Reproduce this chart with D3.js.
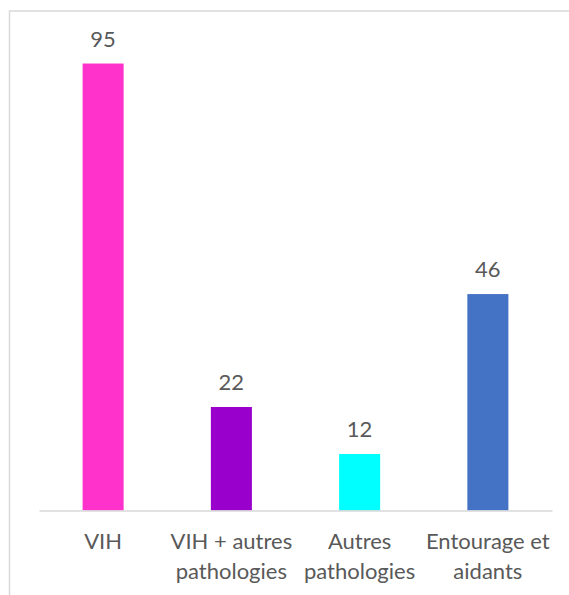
<!DOCTYPE html>
<html lang="en">
<head>
    <meta charset="UTF-8">
    <title>VIH chart</title>
    <script src="https://cdnjs.cloudflare.com/ajax/libs/d3/7.8.5/d3.min.js"></script>
    <style>
        html, body { margin: 0; padding: 0; background: #fff; }
        svg { display: block; }
        text { font-family: Lato, "Open Sans", sans-serif; fill: #595959; }
    </style>
</head>
<body>
<div id="chart"></div>
<script>
    // data
    const categories = ["VIH", "VIH + autres\npathologies", "Autres\npathologies", "Entourage et\naidants"];
    const values = [95, 22, 12, 46];
    const colors = ["#ff33cc", "#9900cc", "#00ffff", "#4472c4"];

    const width = 569;
    const height = 595;
    const fontSize = 22;

    const svg = d3.select("#chart")
        .append("svg")
        .attr("width", width)
        .attr("height", height);

    // chart frame (cut off at right and bottom like the original)
    svg.append("rect")
        .attr("x", 9.5)
        .attr("y", 11)
        .attr("width", width + 20)
        .attr("height", height + 20)
        .attr("fill", "none")
        .attr("stroke", "#d9d9d9")
        .attr("stroke-width", 1.5);

    const x = d3.scaleBand()
        .domain(categories)
        .range([39, 552])
        .paddingInner(0.68)
        .paddingOuter(0.34);

    const y = d3.scaleLinear()
        .domain([0, 100])
        .range([510.5, 40]);

    // bars
    svg.append("g")
        .selectAll("rect")
        .data(values)
        .enter()
        .append("rect")
        .attr("x", (d, i) => x(categories[i]))
        .attr("y", d => y(d))
        .attr("width", x.bandwidth())
        .attr("height", d => y(0) - y(d))
        .attr("fill", (d, i) => colors[i]);

    // category axis
    const axis = svg.append("g")
        .attr("transform", `translate(0,${y(0)})`)
        .call(d3.axisBottom(x).tickSize(0).tickFormat(""));
    axis.select(".domain").attr("stroke", "#d9d9d9").attr("stroke-width", 1.5);

    // category labels (wrapped)
    const labels = svg.append("g")
        .selectAll("text")
        .data(categories)
        .enter()
        .append("text")
        .attr("text-anchor", "middle")
        .attr("font-size", fontSize);
    labels.each(function(d) {
        const t = d3.select(this);
        d.split("\n").forEach((line, k) => {
            t.append("tspan")
                .attr("x", x(d) + x.bandwidth() / 2)
                .attr("y", 549 + k * 29.5)
                .text(line);
        });
    });

    // value labels
    svg.append("g")
        .selectAll("text")
        .data(values)
        .enter()
        .append("text")
        .attr("text-anchor", "middle")
        .attr("font-size", fontSize)
        .attr("x", (d, i) => x(categories[i]) + x.bandwidth() / 2)
        .attr("y", d => y(d) - 17)
        .text(d => d);
</script>
</body>
</html>
